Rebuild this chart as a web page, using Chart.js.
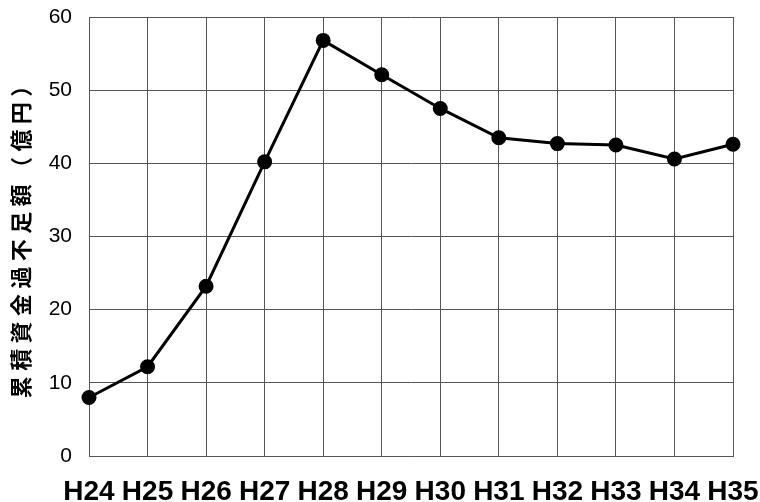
<!DOCTYPE html>
<html>
<head>
<meta charset="utf-8">
<script src="https://cdn.jsdelivr.net/npm/chart.js@4/dist/chart.umd.min.js"></script>
<style>
html,body{margin:0;padding:0;background:#fff}
#wrap{width:760px;height:502px;position:relative}
</style>
</head>
<body>
<div id="wrap"><canvas id="c" width="760" height="502"></canvas></div>
<script>
// 年度と累積資金過不足額（億円）
let years=["H24","H25","H26","H27","H28","H29","H30","H31","H32","H33","H34","H35"]
let values=[8.0,12.2,23.2,40.2,56.8,52.1,47.5,43.5,42.7,42.5,40.6,42.6]
let yTicks=[0,10,20,30,40,50,60]
let yTitle="累積資金過不足額（億円）"

// 軸タイトル（字間を広げて回転）
let spacedTitle={
id:"spacedTitle",
afterDraw(chart){
let ctx=chart.ctx
let area=chart.chartArea
let chars=Array.from(yTitle)
let step=27.4
let mid=(area.top+area.bottom)/2
let startY=mid+step*(chars.length-1)/2
ctx.save()
ctx.fillStyle="#000"
ctx.font="bold 22px 'Noto Sans CJK JP'"
ctx.textAlign="center"
ctx.textBaseline="middle"
chars.forEach((ch,i)=>{
ctx.save()
ctx.translate(21,startY-i*step)
ctx.rotate(-Math.PI/2)
ctx.fillText(ch,0,0)
ctx.restore()
})
ctx.restore()
}
}

new Chart(document.getElementById("c"),{
type:"line",
data:{
labels:years,
datasets:[{
data:values,
borderColor:"#000",
backgroundColor:"#000",
borderWidth:3,
pointRadius:6,
pointHoverRadius:6,
tension:0
}]
},
options:{
responsive:false,
animation:false,
devicePixelRatio:1,
layout:{padding:{top:17,right:27,left:0,bottom:0}},
plugins:{legend:{display:false},tooltip:{enabled:false}},
scales:{
x:{
offset:false,
grid:{color:"#555",lineWidth:1,drawTicks:false},
border:{color:"#555"},
ticks:{color:"#000",padding:19,maxRotation:0,autoSkip:false,
font:{family:"'Liberation Sans'",size:28,weight:"bold"}},
afterFit(s){s.height=46;s.paddingLeft=0;s.paddingRight=0}
},
y:{
min:0,max:60,
grid:{color:"#555",lineWidth:1,drawTicks:false},
border:{color:"#555"},
afterBuildTicks(s){s.ticks=yTicks.map(v=>({value:v}))},
ticks:{color:"#000",padding:17,
font:{family:"'Liberation Sans'",size:21}},
afterFit(s){s.width=89;s.paddingTop=0;s.paddingBottom=0}
}
}
},
plugins:[spacedTitle]
})
</script>
</body>
</html>
